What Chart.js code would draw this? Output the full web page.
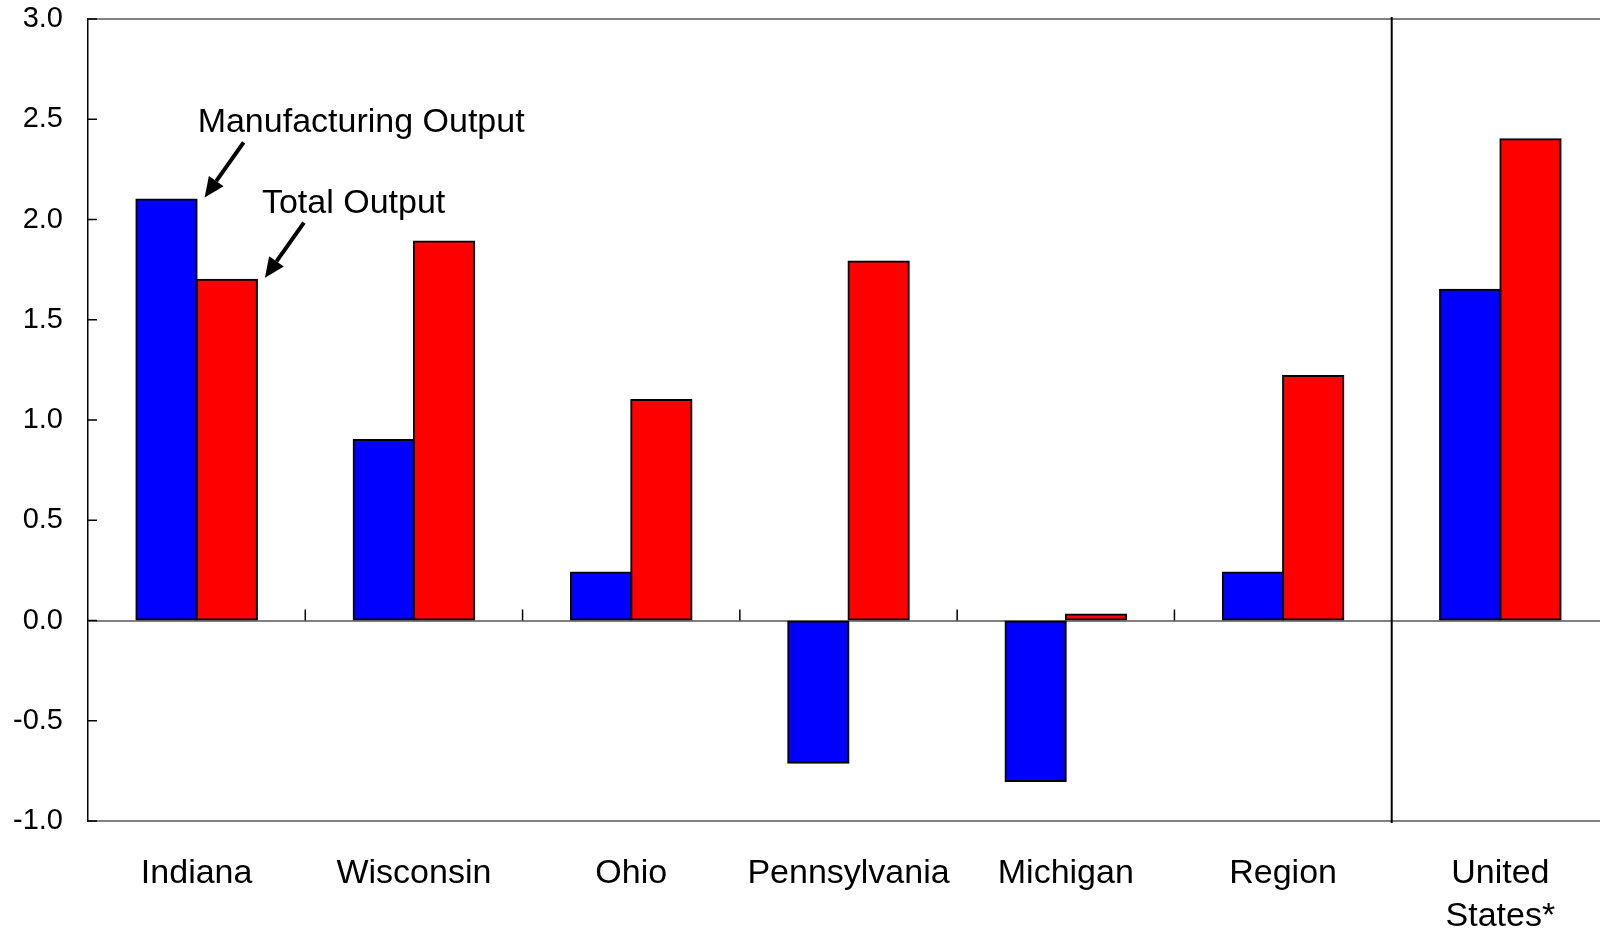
<!DOCTYPE html>
<html lang="en">
<head>
  <meta charset="UTF-8">
  <title>Manufacturing vs Total Output</title>
  <script src="https://cdn.jsdelivr.net/npm/chart.js"></script>
  <style>
    html, body {
      margin: 0;
      padding: 0;
      background: #fff;
      overflow: hidden;
    }
    #wrap {
      width: 1609px;
      height: 930px;
    }
  </style>
</head>
<body>
  <div id="wrap">
    <canvas id="outputChart" width="1609" height="930"></canvas>
  </div>

  <script>
    // data
    const regions = ['Indiana', 'Wisconsin', 'Ohio', 'Pennsylvania', 'Michigan', 'Region', ['United', 'States*']];
    const manufacturingOutput = [2.1, 0.9, 0.24, -0.71, -0.8, 0.24, 1.65];
    const totalOutput = [1.7, 1.89, 1.1, 1.79, 0.03, 1.22, 2.4];
    const seriesNames = ['Manufacturing Output', 'Total Output'];
    const yMin = -1, yMax = 3, yStep = 0.5;

    const FONT = "'Liberation Sans', Arial, sans-serif";

    function arrow(ctx, x1, y1, x2, y2) {
      const ang = Math.atan2(y2 - y1, x2 - x1);
      const head = 20, half = 9;
      const bx = x2 - head * Math.cos(ang), by = y2 - head * Math.sin(ang);
      ctx.beginPath();
      ctx.moveTo(x1, y1);
      ctx.lineTo(bx, by);
      ctx.lineWidth = 4;
      ctx.strokeStyle = '#000';
      ctx.stroke();
      ctx.beginPath();
      ctx.moveTo(x2, y2);
      ctx.lineTo(bx + half * Math.sin(ang), by - half * Math.cos(ang));
      ctx.lineTo(bx - half * Math.sin(ang), by + half * Math.cos(ang));
      ctx.closePath();
      ctx.fillStyle = '#000';
      ctx.fill();
    }

    // extra drawing: inward y ticks, category ticks on zero line, separator, callouts
    const extras = {
      id: 'extras',
      afterDatasetsDraw(chart) {
        const ctx = chart.ctx;
        const x = chart.scales.x, y = chart.scales.y;
        const area = chart.chartArea;
        const zeroY = y.getPixelForValue(0);
        ctx.save();

        // y ticks pointing into the plot
        ctx.strokeStyle = '#000';
        ctx.lineWidth = 1.5;
        y.ticks.forEach(t => {
          const py = y.getPixelForValue(t.value);
          ctx.beginPath();
          ctx.moveTo(area.left, py);
          ctx.lineTo(area.left + 9, py);
          ctx.stroke();
        });

        // category ticks on the zero line, full separator before the last group
        const n = regions.length;
        for (let i = 1; i < n; i++) {
          const px = (x.getPixelForTick(i - 1) + x.getPixelForTick(i)) / 2;
          ctx.beginPath();
          if (i === n - 1) {
            ctx.lineWidth = 2;
            ctx.moveTo(px, area.top - 2);
            ctx.lineTo(px, area.bottom + 2);
          } else {
            ctx.lineWidth = 1.5;
            ctx.moveTo(px, zeroY - 11);
            ctx.lineTo(px, zeroY);
          }
          ctx.stroke();
        }

        // callouts pointing at the first pair of bars
        ctx.font = '34px ' + FONT;
        ctx.fillStyle = '#000';
        ctx.textBaseline = 'alphabetic';
        ctx.textAlign = 'left';
        [0, 1].forEach(di => {
          const el = chart.getDatasetMeta(di).data[0];
          const tx = el.x + el.width / 2 + 8;
          const ty = el.y - 2;
          arrow(ctx, tx + 39, ty - 55, tx, ty);
          ctx.fillText(seriesNames[di], tx - (di === 0 ? 7 : 3), ty - 65);
        });

        ctx.restore();
      }
    };

    const greyAt = [0, yMax];

    new Chart(document.getElementById('outputChart'), {
      type: 'bar',
      data: {
        labels: regions,
        datasets: [{
          label: seriesNames[0],
          data: manufacturingOutput,
          backgroundColor: '#0000FF',
          borderColor: '#000',
          borderWidth: 2,
          borderSkipped: false,
          inflateAmount: 1
        }, {
          label: seriesNames[1],
          data: totalOutput,
          backgroundColor: '#FF0000',
          borderColor: '#000',
          borderWidth: 2,
          borderSkipped: false,
          inflateAmount: 1
        }]
      },
      options: {
        responsive: false,
        animation: false,
        devicePixelRatio: 1,
        layout: { padding: { top: 19, right: 0, left: 0, bottom: 0 } },
        datasets: {
          bar: { categoryPercentage: 0.555, barPercentage: 1.0 }
        },
        plugins: {
          legend: { display: false },
          tooltip: { enabled: false }
        },
        scales: {
          x: {
            grid: { display: false, drawTicks: false },
            border: { color: '#808080', width: 2 },
            ticks: {
              color: '#000',
              padding: 32,
              maxRotation: 0,
              autoSkip: false,
              font: { family: FONT, size: 34, lineHeight: 1.24 }
            },
            afterFit(scale) { scale.height = 109; }
          },
          y: {
            min: yMin,
            max: yMax,
            grid: {
              drawTicks: false,
              lineWidth: 2,
              color: c => greyAt.includes(c.tick && c.tick.value) ? '#808080' : 'rgba(0,0,0,0)'
            },
            border: { color: '#000', width: 1.5 },
            ticks: {
              stepSize: yStep,
              color: '#000',
              padding: 25,
              font: { family: FONT, size: 29 },
              callback: v => Number(v).toFixed(1)
            },
            afterFit(scale) {
              scale.width = 88;
              scale.paddingTop = 0;
              scale.paddingBottom = 0;
            }
          }
        }
      },
      plugins: [extras]
    });
  </script>
</body>
</html>
